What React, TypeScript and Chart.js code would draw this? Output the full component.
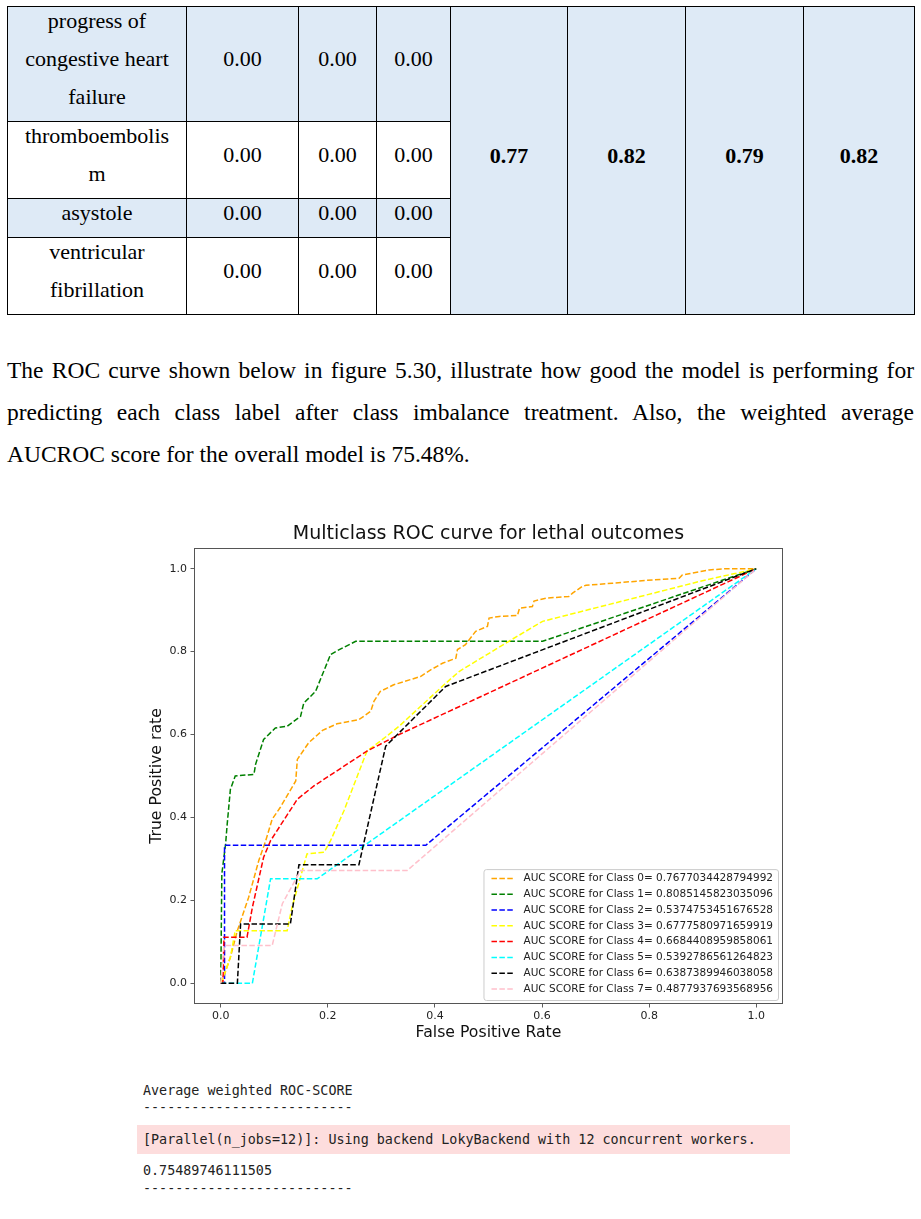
import React, { useEffect, useRef } from "react";
import { Chart, registerables } from "chart.js";

Chart.register(...registerables);

// ---------- chart data ----------
const chartTitle = "Multiclass ROC curve for lethal outcomes";
const xAxisTitle = "False Positive Rate";
const yAxisTitle = "True Positive rate";
const tickValues = [0, 0.2, 0.4, 0.6, 0.8, 1.0];

const classLabels = [
  "AUC SCORE for Class 0= 0.7677034428794992",
  "AUC SCORE for Class 1= 0.8085145823035096",
  "AUC SCORE for Class 2= 0.5374753451676528",
  "AUC SCORE for Class 3= 0.6777580971659919",
  "AUC SCORE for Class 4= 0.6684408959858061",
  "AUC SCORE for Class 5= 0.5392786561264823",
  "AUC SCORE for Class 6= 0.6387389946038058",
  "AUC SCORE for Class 7= 0.4877937693568956",
];
const classColors = ["orange", "green", "blue", "yellow", "red", "cyan", "black", "pink"];

const fprClass0 = [0, 0.002, 0.018, 0.031, 0.052, 0.071, 0.084, 0.096, 0.111, 0.14, 0.143, 0.164, 0.19, 0.217, 0.258, 0.28, 0.286, 0.298, 0.323, 0.373, 0.392, 0.414, 0.439, 0.442, 0.457, 0.476, 0.498, 0.501, 0.52, 0.554, 0.558, 0.582, 0.585, 0.607, 0.65, 0.657, 0.675, 0.682, 0.731, 0.806, 0.856, 0.862, 0.912, 0.943, 1.0];
const tprClass0 = [0, 0.003, 0.063, 0.127, 0.207, 0.296, 0.344, 0.396, 0.424, 0.488, 0.54, 0.58, 0.61, 0.626, 0.636, 0.656, 0.68, 0.704, 0.72, 0.74, 0.756, 0.772, 0.784, 0.805, 0.817, 0.849, 0.861, 0.881, 0.885, 0.887, 0.905, 0.909, 0.922, 0.929, 0.933, 0.941, 0.957, 0.96, 0.965, 0.973, 0.977, 0.985, 0.997, 1.0, 1.0];

const fprClass1 = [0, 0.0, 0.002, 0.009, 0.012, 0.018, 0.027, 0.062, 0.065, 0.08, 0.102, 0.124, 0.149, 0.155, 0.177, 0.205, 0.217, 0.252, 0.601, 1.0];
const tprClass1 = [0, 0.003, 0.264, 0.336, 0.384, 0.468, 0.5, 0.504, 0.528, 0.588, 0.616, 0.62, 0.644, 0.676, 0.704, 0.793, 0.802, 0.825, 0.825, 1.0];

const fprClass2 = [0, 0.007, 0.007, 0.383, 1.0];
const tprClass2 = [0, 0.0, 0.333, 0.333, 1.0];

const fprClass3 = [0, 0.006, 0.018, 0.027, 0.124, 0.133, 0.161, 0.193, 0.205, 0.23, 0.273, 0.298, 0.333, 0.417, 0.445, 0.538, 0.601, 0.893, 1.0];
const tprClass3 = [0, 0.02, 0.063, 0.127, 0.127, 0.183, 0.312, 0.316, 0.344, 0.416, 0.56, 0.584, 0.62, 0.72, 0.752, 0.825, 0.873, 0.969, 1.0];

const fprClass4 = [0, 0.004, 0.006, 0.049, 0.059, 0.08, 0.093, 0.143, 0.174, 0.273, 0.333, 1.0];
const tprClass4 = [0, 0.0, 0.111, 0.111, 0.183, 0.304, 0.344, 0.444, 0.476, 0.56, 0.6, 1.0];

const fprClass5 = [0, 0.059, 0.093, 0.18, 1.0];
const tprClass5 = [0, 0, 0.252, 0.252, 1.0];

const fprClass6 = [0, 0.031, 0.037, 0.13, 0.146, 0.258, 0.308, 0.42, 1.0];
const tprClass6 = [0, 0, 0.143, 0.143, 0.286, 0.286, 0.572, 0.716, 1.0];

const fprClass7 = [0, 0.006, 0.096, 0.115, 0.149, 0.348, 1.0];
const tprClass7 = [0, 0.091, 0.091, 0.192, 0.272, 0.272, 1.0];

const fprSeries = [fprClass0, fprClass1, fprClass2, fprClass3, fprClass4, fprClass5, fprClass6, fprClass7];
const tprSeries = [tprClass0, tprClass1, tprClass2, tprClass3, tprClass4, tprClass5, tprClass6, tprClass7];

// ---------- table / text data ----------
const tableRowLabels = [
  ["progress of", "congestive heart", "failure"],
  ["thromboembolis", "m"],
  ["asystole"],
  ["ventricular", "fibrillation"],
];
const tableRowValues = [
  ["0.00", "0.00", "0.00"],
  ["0.00", "0.00", "0.00"],
  ["0.00", "0.00", "0.00"],
  ["0.00", "0.00", "0.00"],
];
const mergedValues = ["0.77", "0.82", "0.79", "0.82"];

const paragraphLines = [
  "The ROC curve shown below in figure 5.30, illustrate how good the model is performing for",
  "predicting each class label after class imbalance treatment. Also, the weighted average",
  "AUCROC score for the overall model is 75.48%.",
];

const consoleHeader = "Average weighted ROC-SCORE";
const consoleDashes = "--------------------------";
const consoleWarning = "[Parallel(n_jobs=12)]: Using backend LokyBackend with 12 concurrent workers.";
const consoleScore = "0.75489746111505";

// ---------- styling constants ----------
const FONT = "'DejaVu Sans'";
const LINE_DASH = [5.5, 2.4];
const TEXT_COLOR = "#222";

const framePlugin = {
  id: "frameBox",
  afterDatasetsDraw(chart: any) {
    const { ctx, chartArea } = chart;
    ctx.save();
    ctx.strokeStyle = "#555";
    ctx.lineWidth = 1;
    ctx.setLineDash([]);
    ctx.strokeRect(
      Math.round(chartArea.left) + 0.5,
      Math.round(chartArea.top) + 0.5,
      Math.round(chartArea.right - chartArea.left) - 1,
      Math.round(chartArea.bottom - chartArea.top) - 1
    );
    ctx.restore();
  },
};

const legendPlugin = {
  id: "rocLegend",
  afterDraw(chart: any) {
    const { ctx, chartArea } = chart;
    const ds = chart.data.datasets;
    const fs = 10.5;
    ctx.save();
    ctx.font = `${fs}px ${FONT}`;
    let textW = 0;
    ds.forEach((d: any) => {
      textW = Math.max(textW, ctx.measureText(d.label).width);
    });
    const rowH = 15.8;
    const boxW = 40 + textW + 5;
    const boxH = rowH * (ds.length - 1) + 20.3;
    const right = chartArea.right - 5;
    const bottom = chartArea.bottom - 4;
    const left = right - boxW;
    const top = bottom - boxH;
    ctx.beginPath();
    if ((ctx as any).roundRect) (ctx as any).roundRect(left + 0.5, top + 0.5, boxW, boxH, 2.5);
    else ctx.rect(left + 0.5, top + 0.5, boxW, boxH);
    ctx.fillStyle = "rgba(255,255,255,0.85)";
    ctx.fill();
    ctx.strokeStyle = "#cccccc";
    ctx.lineWidth = 1;
    ctx.stroke();
    ds.forEach((d: any, i: number) => {
      const cy = top + 9.3 + i * rowH;
      ctx.setLineDash(LINE_DASH);
      ctx.strokeStyle = d.borderColor;
      ctx.lineWidth = 1.5;
      ctx.beginPath();
      ctx.moveTo(left + 8, cy);
      ctx.lineTo(left + 30, cy);
      ctx.stroke();
      ctx.setLineDash([]);
      ctx.fillStyle = TEXT_COLOR;
      ctx.textBaseline = "middle";
      ctx.textAlign = "left";
      ctx.fillText(d.label, left + 40, cy);
    });
    ctx.restore();
  },
};

function RocChart() {
  const ref = useRef<HTMLCanvasElement>(null);
  useEffect(() => {
    if (!ref.current) return;
    const datasets = classLabels.map((label, i) => ({
      label,
      data: fprSeries[i].map((x, j) => ({ x, y: tprSeries[i][j] })),
      borderColor: classColors[i],
      backgroundColor: classColors[i],
      borderWidth: 1.5,
      borderDash: LINE_DASH,
      pointRadius: 0,
      showLine: true,
      fill: false,
      tension: 0,
      order: classLabels.length - i,
    }));
    const tickFont = { family: FONT, size: 11 };
    const chart = new Chart(ref.current, {
      type: "scatter",
      data: { datasets },
      options: {
        animation: false,
        responsive: false,
        devicePixelRatio: 1,
        layout: { padding: { left: 0, top: 0, right: 17, bottom: 0 } },
        plugins: {
          legend: { display: false },
          tooltip: { enabled: false },
          title: {
            display: true,
            fullSize: false,
            text: chartTitle,
            color: "#111",
            font: { family: FONT, size: 19, weight: "normal" },
            padding: { top: 8, bottom: 2.2 },
          },
        },
        scales: {
          x: {
            type: "linear",
            min: -0.05,
            max: 1.05,
            afterBuildTicks: (s: any) => {
              s.ticks = tickValues.map((v) => ({ value: v }));
            },
            afterFit: (s: any) => {
              s.height = 46;
            },
            ticks: {
              font: tickFont,
              color: TEXT_COLOR,
              padding: 2.4,
              autoSkip: false,
              maxRotation: 0,
              callback: (v: any) => Number(v).toFixed(1),
            },
            grid: {
              display: true,
              drawOnChartArea: false,
              drawTicks: true,
              tickLength: 3.5,
              color: "#333",
              lineWidth: 0.8,
            },
            border: { display: false },
            title: {
              display: true,
              text: xAxisTitle,
              color: "#111",
              font: { family: FONT, size: 15.7 },
              padding: { top: 0, bottom: 7.6 },
            },
          },
          y: {
            type: "linear",
            min: -0.05,
            max: 1.05,
            afterBuildTicks: (s: any) => {
              s.ticks = tickValues.map((v) => ({ value: v }));
            },
            afterFit: (s: any) => {
              s.width = 64;
            },
            ticks: {
              font: tickFont,
              color: TEXT_COLOR,
              padding: 3.5,
              autoSkip: false,
              callback: (v: any) => Number(v).toFixed(1),
            },
            grid: {
              display: true,
              drawOnChartArea: false,
              drawTicks: true,
              tickLength: 3.5,
              color: "#333",
              lineWidth: 0.8,
            },
            border: { display: false },
            title: {
              display: true,
              text: yAxisTitle,
              color: "#111",
              font: { family: FONT, size: 15.7 },
              padding: { top: 17.6, bottom: 0 },
            },
          },
        },
      } as any,
      plugins: [framePlugin, legendPlugin],
    });
    return () => chart.destroy();
  }, []);
  return (
    <canvas
      ref={ref}
      width={670}
      height={535}
      style={{ position: "absolute", left: 130, top: 515, width: 670, height: 535 }}
    />
  );
}

const colX = [7, 186, 298, 376, 450, 567, 685, 803, 914];
const rowY = [6, 121, 198, 237, 314];
const BLUE = "#DEEAF6";
const rowFill = [BLUE, "#ffffff", BLUE, "#ffffff"];

function Cell(props: {
  x0: number;
  x1: number;
  y0: number;
  y1: number;
  bg: string;
  bold?: boolean;
  lines: string[];
}) {
  const { x0, x1, y0, y1, bg, bold, lines } = props;
  return (
    <div
      style={{
        position: "absolute",
        left: x0,
        top: y0,
        width: x1 - x0 + 1,
        height: y1 - y0 + 1,
        boxSizing: "border-box",
        border: "1px solid #000",
        background: bg,
        display: "flex",
        flexDirection: "column",
        justifyContent: "center",
        alignItems: "center",
        paddingBottom: 10,
        fontFamily: "'Liberation Serif', 'Times New Roman', serif",
        fontSize: 22,
        lineHeight: "38px",
        fontWeight: bold ? "bold" : "normal",
        color: "#000",
        textAlign: "center",
        whiteSpace: "nowrap",
      }}
    >
      {lines.map((l, i) => (
        <div key={i}>{l}</div>
      ))}
    </div>
  );
}

function TablePart() {
  const cells: any[] = [];
  tableRowLabels.forEach((labelLines, r) => {
    cells.push(
      <Cell key={`l${r}`} x0={colX[0]} x1={colX[1]} y0={rowY[r]} y1={rowY[r + 1]} bg={rowFill[r]} lines={labelLines} />
    );
    tableRowValues[r].forEach((v, c) => {
      cells.push(
        <Cell key={`v${r}-${c}`} x0={colX[c + 1]} x1={colX[c + 2]} y0={rowY[r]} y1={rowY[r + 1]} bg={rowFill[r]} lines={[v]} />
      );
    });
  });
  mergedValues.forEach((v, k) => {
    cells.push(
      <Cell key={`m${k}`} x0={colX[4 + k]} x1={colX[5 + k]} y0={rowY[0]} y1={rowY[4]} bg={BLUE} bold lines={[v]} />
    );
  });
  return <>{cells}</>;
}

function Paragraph() {
  return (
    <div
      style={{
        position: "absolute",
        left: 7,
        top: 349,
        width: 907,
        fontFamily: "'Liberation Serif', 'Times New Roman', serif",
        fontSize: 23.5,
        lineHeight: "42px",
        color: "#000",
      }}
    >
      {paragraphLines.map((l, i) => (
        <div
          key={i}
          style={{
            textAlign: i < paragraphLines.length - 1 ? "justify" : "left",
            textAlignLast: i < paragraphLines.length - 1 ? "justify" : "left",
            whiteSpace: "nowrap",
          } as any}
        >
          {l}
        </div>
      ))}
    </div>
  );
}

function ConsolePart() {
  const mono: React.CSSProperties = {
    position: "absolute",
    left: 143,
    fontFamily: "'DejaVu Sans Mono', 'Liberation Mono', monospace",
    fontSize: 13.4,
    lineHeight: "17px",
    color: TEXT_COLOR,
    whiteSpace: "pre",
  };
  return (
    <>
      <div style={{ ...mono, top: 1081.5 }}>{consoleHeader}</div>
      <div style={{ ...mono, top: 1098.5 }}>{consoleDashes}</div>
      <div style={{ position: "absolute", left: 137, top: 1125, width: 653, height: 29, background: "#FDDDDD" }} />
      <div style={{ ...mono, top: 1130.5 }}>{consoleWarning}</div>
      <div style={{ ...mono, top: 1161.5 }}>{consoleScore}</div>
      <div style={{ ...mono, top: 1179.5 }}>{consoleDashes}</div>
    </>
  );
}

export default function App() {
  return (
    <div style={{ position: "absolute", left: 0, top: 0, width: 921, height: 1219, background: "#fff", overflow: "hidden" }}>
      <TablePart />
      <Paragraph />
      <RocChart />
      <ConsolePart />
    </div>
  );
}
